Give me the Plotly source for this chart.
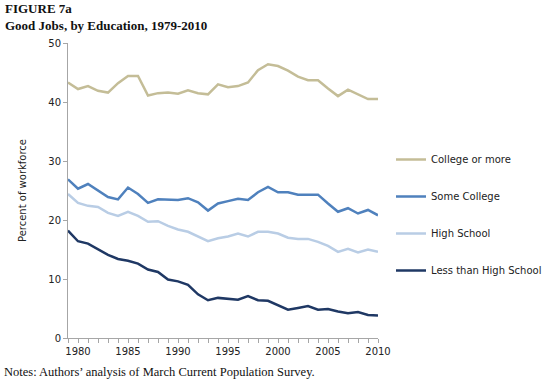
import plotly.graph_objects as go

years = list(range(1979, 2011))

college_or_more = [43.3, 42.2, 42.7, 41.9, 41.6, 43.2, 44.4, 44.4, 41.1, 41.5,
                   41.6, 41.4, 42.0, 41.5, 41.3, 43.0, 42.5, 42.7, 43.3, 45.4,
                   46.4, 46.1, 45.3, 44.3, 43.7, 43.7, 42.3, 41.0, 42.1, 41.3,
                   40.5, 40.5]
some_college = [26.9, 25.3, 26.1, 25.0, 23.9, 23.5, 25.5, 24.4, 22.9, 23.5,
                23.5, 23.4, 23.7, 23.0, 21.6, 22.8, 23.2, 23.6, 23.4, 24.7,
                25.6, 24.7, 24.7, 24.3, 24.3, 24.3, 22.8, 21.4, 22.0, 21.1,
                21.7, 20.8]
high_school = [24.4, 22.9, 22.4, 22.2, 21.2, 20.7, 21.4, 20.7, 19.7, 19.8,
               19.0, 18.4, 18.0, 17.2, 16.4, 16.9, 17.2, 17.7, 17.2, 18.0,
               18.0, 17.7, 17.0, 16.8, 16.8, 16.3, 15.6, 14.6, 15.1, 14.5,
               15.0, 14.6]
less_than_hs = [18.2, 16.4, 16.0, 15.0, 14.1, 13.4, 13.1, 12.6, 11.6, 11.2,
                9.9, 9.6, 9.0, 7.4, 6.4, 6.8, 6.6, 6.5, 7.1, 6.4,
                6.3, 5.6, 4.8, 5.1, 5.4, 4.8, 4.9, 4.5, 4.2, 4.4,
                3.9, 3.8]

series_names = ["College or more", "Some College", "High School", "Less than High School"]
series_values = [college_or_more, some_college, high_school, less_than_hs]
series_colors = ["#C4BD97", "#4F81BD", "#B9CDE5", "#1F3864"]

fig = go.Figure()
for i, (name, vals, col) in enumerate(zip(series_names, series_values, series_colors)):
    fig.add_trace(go.Scatter(
        x=years, y=vals, mode="lines", name=name,
        line=dict(color=col, width=2.5),
        legendgroup=f"g{i}",
    ))

W, H = 550, 383
L, R, T, B = 68, 172, 43, 45
pw = W - L - R
ph = H - T - B

def px_x(px):
    return (px - L) / pw

def px_y(py):
    return (H - B - py) / ph

axis_col = "#A6A6A6"
tick_font = dict(family="DejaVu Sans, Verdana, sans-serif", size=10, color="#222222")
serif_font = dict(family="Liberation Serif, Times New Roman, serif", size=13, color="#111111")

fig.update_layout(
    width=W, height=H,
    margin=dict(l=L, r=R, t=T, b=B, autoexpand=False),
    paper_bgcolor="white", plot_bgcolor="white",
    showlegend=True,
    legend=dict(
        x=px_x(391), y=px_y(145), xanchor="left", yanchor="top",
        traceorder="grouped", tracegroupgap=18,
        font=tick_font, bgcolor="rgba(0,0,0,0)",
    ),
    xaxis=dict(
        range=[1979, 2010], showgrid=False, zeroline=False,
        showline=True, linecolor=axis_col, linewidth=1,
        ticks="outside", ticklen=4, tickcolor=axis_col,
        tick0=1980, dtick=5, tickfont=tick_font,
        minor=dict(dtick=1, tick0=1979, ticks="outside", ticklen=4, tickcolor=axis_col),
    ),
    yaxis=dict(
        range=[0, 50], showgrid=False, zeroline=False,
        showline=True, linecolor=axis_col, linewidth=1,
        ticks="outside", ticklen=4, tickcolor=axis_col,
        tick0=0, dtick=10, tickfont=tick_font,
        title=dict(text="Percent of workforce", font=tick_font, standoff=19),
    ),
    annotations=[
        dict(text="<b>FIGURE 7a</b>", xref="paper", yref="paper",
             x=px_x(4), y=px_y(0.5), xanchor="left", yanchor="top", showarrow=False,
             borderpad=0, font=serif_font),
        dict(text="<b>Good Jobs, by Education, 1979-2010</b>", xref="paper", yref="paper",
             x=px_x(4), y=px_y(17.5), xanchor="left", yanchor="top", showarrow=False,
             borderpad=0, font=serif_font),
        dict(text="Notes: Authors\u2019 analysis of March Current Population Survey.", xref="paper", yref="paper",
             x=px_x(2), y=px_y(363), xanchor="left", yanchor="top", showarrow=False,
             font=dict(family="Liberation Serif, Times New Roman, serif", size=12.5, color="#111111")),
    ],
)

fig.write_html("out.html",
               config={"displayModeBar": False},
               post_script="document.body.style.margin='0';document.body.style.padding='0';")
